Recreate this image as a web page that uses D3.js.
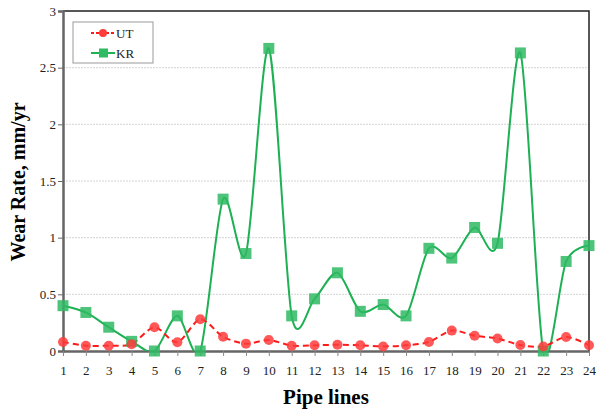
<meta charset="utf-8">
<script src="https://d3js.org/d3.v7.min.js"></script>
<style>
  body { margin: 0; background: #fff; }
  text { font-family: "Liberation Serif", "Times New Roman", serif; }
</style>
<div id="chart"></div>
<script>
const pipes = d3.range(1, 25)
const utVals = [0.08, 0.047, 0.047, 0.06, 0.21, 0.077, 0.28, 0.126, 0.065, 0.097, 0.047, 0.05,
                0.055, 0.05, 0.04, 0.05, 0.08, 0.18, 0.135, 0.11, 0.053, 0.04, 0.124, 0.05]
const krVals = [0.40, 0.34, 0.21, 0.085, 0, 0.31, 0, 1.34, 0.86, 2.67, 0.31, 0.46,
                0.69, 0.35, 0.41, 0.31, 0.906, 0.82, 1.09, 0.95, 2.63, 0, 0.79, 0.93]
const yTicks = [0, 0.5, 1, 1.5, 2, 2.5, 3]
const seriesNames = ["UT", "KR"]

const width = 598, height = 412
const margin = {top: 11, right: 8, bottom: 61, left: 63}

const svg = d3.select("#chart").append("svg")
  .attr("width", width).attr("height", height)

const x = d3.scaleLinear().domain([1, 24]).range([margin.left, width - margin.right - 1])
const y = d3.scaleLinear().domain([0, 3]).range([height - margin.bottom, margin.top])

const pLeft = x(1), pRight = x(24), pTop = y(3), pBottom = y(0)

// grid
svg.append("g").selectAll("line")
  .data(yTicks.filter(d => d > 0 && d < 3))
  .join("line")
  .attr("x1", pLeft).attr("x2", pRight)
  .attr("y1", d => y(d)).attr("y2", d => y(d))
  .attr("stroke", "#d4d4d4").attr("stroke-dasharray", "2,1")

// frame top/right
svg.append("path")
  .attr("d", `M${pLeft},${pTop}H${pRight}V${pBottom}`)
  .attr("fill", "none").attr("stroke", "#222").attr("stroke-width", 1.5)

// axes
const yAxis = svg.append("g")
  .attr("transform", `translate(${pLeft},0)`)
  .call(d3.axisLeft(y).tickValues(yTicks).tickSize(5).tickFormat(d3.format("")))
yAxis.select(".domain").attr("stroke", "#666").attr("stroke-width", 2.5)
yAxis.selectAll(".tick line").attr("stroke", "#666")
yAxis.selectAll("text").attr("font-size", 13).attr("fill", "#222")
  .attr("font-family", "Liberation Serif").attr("x", -7)

const xAxis = svg.append("g")
  .attr("transform", `translate(0,${pBottom})`)
  .call(d3.axisBottom(x).tickValues(pipes).tickSize(5).tickSizeOuter(0))
xAxis.select(".domain").attr("stroke", "#666").attr("stroke-width", 2.5)
xAxis.selectAll(".tick line").attr("stroke", "#888")
xAxis.selectAll("text").attr("font-size", 13).attr("fill", "#222")
  .attr("font-family", "Liberation Serif").attr("dy", "1.25em")

// titles
svg.append("text")
  .attr("x", (pLeft + pRight) / 2).attr("y", 404)
  .attr("text-anchor", "middle").attr("font-weight", "bold").attr("font-size", 21)
  .text("Pipe lines")
svg.append("text")
  .attr("transform", `translate(25,182) rotate(-90)`)
  .attr("text-anchor", "middle").attr("font-weight", "bold").attr("font-size", 20)
  .text("Wear Rate, mm/yr")

// clip for lines
svg.append("clipPath").attr("id", "plotclip")
  .append("rect").attr("x", pLeft).attr("y", pTop).attr("width", pRight - pLeft).attr("height", pBottom - pTop)

const line = d3.line()
  .x((d, i) => x(pipes[i])).y(d => y(d))
  .curve(d3.curveCardinal.tension(0.15))

const green = "#1db154", red = "#ff1a1a"

svg.append("path").datum(krVals)
  .attr("clip-path", "url(#plotclip)")
  .attr("d", line).attr("fill", "none").attr("stroke", green).attr("stroke-width", 2)

svg.append("path").datum(utVals)
  .attr("clip-path", "url(#plotclip)")
  .attr("d", line).attr("fill", "none").attr("stroke", red)
  .attr("stroke-width", 2).attr("stroke-dasharray", "6,4")

svg.append("g").selectAll("rect").data(krVals).join("rect")
  .attr("x", (d, i) => x(pipes[i]) - 5.5).attr("y", d => y(d) - 5.5)
  .attr("width", 11).attr("height", 11)
  .attr("fill", "#2fba63").attr("fill-opacity", 0.85)

svg.append("g").selectAll("circle").data(utVals).join("circle")
  .attr("cx", (d, i) => x(pipes[i])).attr("cy", d => y(d)).attr("r", 5)
  .attr("fill", "#ff3b3b").attr("fill-opacity", 0.85)

// legend
const lg = svg.append("g")
lg.append("rect").attr("x", 73).attr("y", 22).attr("width", 80).attr("height", 41)
  .attr("fill", "#fff").attr("stroke", "#999")
seriesNames.forEach((name, i) => {
  const ly = 33 + i * 20
  lg.append("line").attr("x1", 91).attr("x2", 115).attr("y1", ly).attr("y2", ly)
    .attr("stroke", i ? green : red).attr("stroke-width", 2)
    .attr("stroke-dasharray", i ? null : "3,2")
  if (i) lg.append("rect").attr("x", 99).attr("y", ly - 4.5).attr("width", 9).attr("height", 9)
    .attr("fill", "#2fba63")
  else lg.append("circle").attr("cx", 103).attr("cy", ly).attr("r", 4).attr("fill", "#ff3b3b")
  lg.append("text").attr("x", 116).attr("y", ly + 4.5).attr("font-size", 13).attr("fill", "#222").text(name)
})
</script>
